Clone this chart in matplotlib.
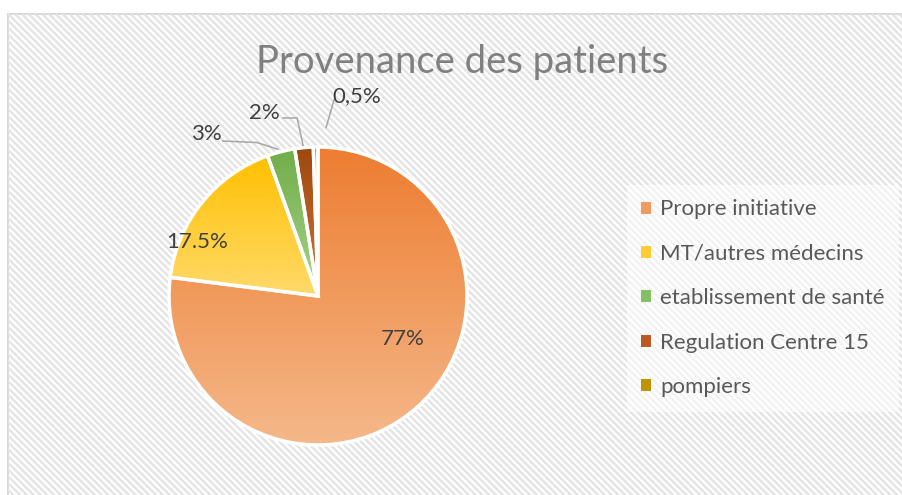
import numpy as np
import matplotlib
matplotlib.use("Agg")
import matplotlib.pyplot as plt
from matplotlib.patches import Rectangle
from matplotlib.colors import to_rgb

plt.rcParams['font.family'] = ['Lato', 'DejaVu Sans']

# data
categories = ['Propre initiative', 'MT/autres médecins', 'etablissement de santé',
              'Regulation Centre 15', 'pompiers']
values = [77, 17.5, 3, 2, 0.5]
labels = ['77%', '17.5%', '3%', '2%', '0,5%']

# gradient colours (top, bottom) per slice
grads = [('#ED7D31', '#F5B88A'),
         ('#FFC000', '#FFDA6A'),
         ('#70AD47', '#A9D38E'),
         ('#9E480E', '#D0743C'),
         ('#997300', '#E0B000')]
legend_cols = ['#F09A5E', '#FFCC33', '#86BF62', '#B85A22', '#C09400']

W, H = 902, 495
fig = plt.figure(figsize=(W / 100, H / 100), dpi=100)

# background: hatched chart area
bg = fig.add_axes([0, 0, 1, 1])
bg.set_xlim(0, W)
bg.set_ylim(H, 0)
bg.axis('off')
frame = Rectangle((8, 14), W + 10, H, facecolor='white', edgecolor='#d9d9d9', lw=1.5)
bg.add_patch(frame)
for c in np.arange(-H, W + 10, 6.8):
    ln, = bg.plot([c, c + H], [14, 14 + H], color='#e4e4e4', lw=1.7, solid_capstyle='butt')
    ln.set_clip_path(frame)

# pie
cx, cy, r = 318, 296, 149
pad = 152
ax = fig.add_axes([(cx - pad) / W, (H - cy - pad) / H, 2 * pad / W, 2 * pad / H])
wedges, _ = ax.pie(values, startangle=90, counterclock=False, radius=1,
                   wedgeprops=dict(edgecolor='white', linewidth=2.5))
for w, (top, bot) in zip(wedges, grads):
    w.set_facecolor('none')
    ext = w.get_path().get_extents()
    g = np.linspace(0, 1, 256)[:, None, None]
    img = (1 - g) * np.array(to_rgb(bot)) + g * np.array(to_rgb(top))
    im = ax.imshow(img, extent=[ext.x0, ext.x1, ext.y0, ext.y1], origin='lower',
                   aspect='auto', interpolation='bilinear', zorder=0)
    im.set_clip_path(w)
lim = pad / r
ax.set_xlim(-lim, lim)
ax.set_ylim(-lim, lim)
ax.set_aspect('equal')
ax.axis('off')

# data labels
label_pos = [(0.57, -0.29), (-0.81, 0.36), (-0.75, 1.09), (-0.36, 1.23), (0.26, 1.34)]
for txt, (x, y) in zip(labels, label_pos):
    ax.text(x, y, txt, ha='center', va='center', fontsize=16, color='#404040')

# leader lines
leaders = [
    [(-0.64, 1.04), (-0.41, 1.03), (-0.27, 0.985)],
    [(-0.235, 1.195), (-0.14, 1.195), (-0.10, 1.01)],
    [(0.107, 1.315), (0.054, 1.13)],
]
for pts in leaders:
    xs, ys = zip(*pts)
    ax.plot(xs, ys, color='#a6a6a6', lw=1.1, clip_on=False)

# title
fig.text(462 / W, 1 - 62 / H, 'Provenance des patients', ha='center', va='center',
         fontsize=27.5, color='#808080')

# legend
handles = [Rectangle((0, 0), 1, 1, facecolor=c, edgecolor='none') for c in legend_cols]
leg = fig.legend(handles, categories, loc='upper left',
                 bbox_to_anchor=(627 / W, 1 - 185 / H), borderaxespad=0,
                 fontsize=16, labelcolor='#595959', frameon=True,
                 handlelength=0.45, handleheight=0.45, handletextpad=0.4,
                 borderpad=0.65, labelspacing=1.1)
leg.get_frame().set_facecolor('white')
leg.get_frame().set_alpha(0.55)
leg.get_frame().set_edgecolor('none')
leg.get_frame().set_boxstyle('square', pad=0)

fig.savefig('out.png', dpi=100)
